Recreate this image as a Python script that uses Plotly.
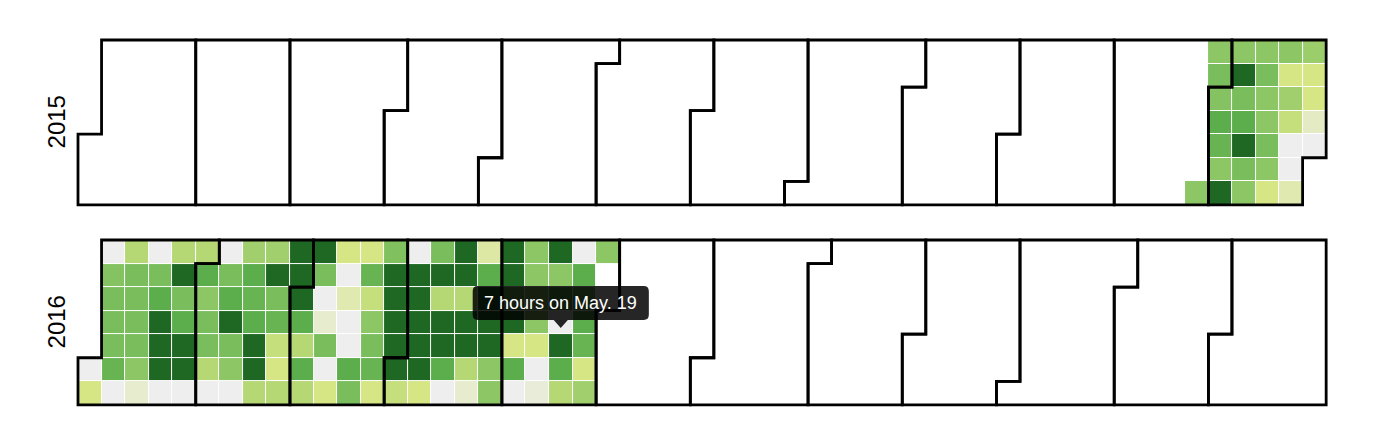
import datetime as dt
import plotly.graph_objects as go

# ---- data: hours per day (Nov 28 2015 .. May 29 2016) ----
start_date = "2015-11-28"
nov_2015 = [3, 3, 3.5]
dec_2015 = [3.2, 4.5, 4, 3, 7,
            3, 7, 3.5, 4.5, 7, 3.5, 3,
            3, 3.5, 3, 3, 3.5, 3, 1,
            3, 1, 2.5, 1.5, 0, 0, 0.6,
            2.6, 1, 1, 0.4, 0]
jan_2016 = [0, 1,
            0, 3.2, 3.5, 3.5, 3.5, 4, 0,
            2, 3.5, 3.5, 3.5, 3.5, 3, 0.3,
            0, 3.5, 4.5, 7, 7, 7, 0,
            2, 7, 3.5, 4.5, 7, 7, 0,
            2]
feb_2016 = [4.5, 3, 3.5, 3.5, 2, 0,
            0, 3.5, 4.5, 7, 3.5, 3, 0,
            2.5, 4.5, 4, 4.5, 7, 7, 2,
            2.5, 7, 3.5, 4, 1.5, 1, 2,
            7, 7]
mar_2016 = [7, 4.5, 2, 4.5, 2,
            7, 3.5, 0, 0.3, 3.5, 0, 1,
            1, 0, 0.6, 0, 0, 4.5, 3.5,
            1, 4, 1.5, 3, 3.5, 4, 1,
            3.3, 7, 7, 7, 7]
apr_2016 = [7, 1.5,
            0, 7, 7, 7, 7, 7, 1,
            3.5, 7, 2, 7, 7, 4.5, 0,
            7, 7, 2, 7, 7, 2, 0.3,
            0.7, 4.5, 7, 7, 7, 3, 3]
may_2016 = [7, 7, 3.5, 7, 1, 4.5, 0,
            3, 3, 3, 3, 1, 0, 0.2,
            7, 3, 4.5, 0, 7, 4.5, 2,
            0, 4.5, 3.5, 4.5, 4, 1, 2.5,
            3]
years = [2015, 2016]
hover_date = "2016-05-19"

color_stops = [0, 1, 2, 3, 4, 5, 6, 7]
color_values = ["#eeeeee", "#d6e685", "#b5d774", "#8cc665", "#68b352",
                "#4ea844", "#1e6823", "#1e6823"]

month_abbr = ["Jan", "Feb", "Mar", "Apr", "May", "Jun", "Jul", "Aug",
              "Sep", "Oct", "Nov", "Dec"]

# ---- build grids ----
values = nov_2015 + dec_2015 + jan_2016 + feb_2016 + mar_2016 + apr_2016 + may_2016
d0 = dt.date.fromisoformat(start_date)
dates = [d0 + dt.timedelta(days=i) for i in range(len(values))]


def week_dow(d):
    jan1 = dt.date(d.year, 1, 1)
    off = (jan1.weekday() + 1) % 7
    doy = (d - jan1).days
    return (doy + off) // 7, (doy + off) % 7


grids = {y: [[None] * 53 for _ in range(7)] for y in years}
texts = {y: [[""] * 53 for _ in range(7)] for y in years}
for d, v in zip(dates, values):
    w, dw = week_dow(d)
    grids[d.year][dw][w] = v
    texts[d.year][dw][w] = f"{v:g} hours on {month_abbr[d.month-1]}. {d.day}"

cs = [[s / 7, c] for s, c in zip(color_stops, color_values)]

BODY = 8  # default page body margin
W, H = 1378 - 2 * BODY, 444 - 2 * BODY
cell = 23.55
left_px = 78 - BODY
tops = {2015: 40 - BODY, 2016: 240 - BODY}
pad = 0.1

fig = go.Figure()
for i, y in enumerate(years):
    ax = "" if i == 0 else str(i + 1)
    fig.add_trace(go.Heatmap(
        z=grids[y], x=list(range(53)), y=list(range(7)),
        text=texts[y], hoverinfo="text",
        colorscale=cs, zmin=0, zmax=7, showscale=False,
        xgap=1, ygap=1, xaxis="x" + ax, yaxis="y" + ax,
    ))

layout = dict(width=W, height=H, margin=dict(l=0, r=0, t=0, b=0),
              paper_bgcolor="white", plot_bgcolor="white", showlegend=False)
x0 = (left_px - pad * cell) / W
x1 = (left_px + (53 + pad) * cell) / W
shapes = []
annotations = []
for i, y in enumerate(years):
    ax = "" if i == 0 else str(i + 1)
    top = tops[y] - pad * cell
    bot = tops[y] + (7 + pad) * cell
    layout["xaxis" + ax] = dict(domain=[x0, min(x1, 1)], range=[-0.5 - pad, 52.5 + pad],
                                visible=False, fixedrange=True)
    layout["yaxis" + ax] = dict(domain=[1 - bot / H, 1 - top / H],
                                range=[6.5 + pad, -0.5 - pad],
                                visible=False, fixedrange=True)
    # month outlines
    for m in range(1, 13):
        t0 = dt.date(y, m, 1)
        t1 = (dt.date(y + 1, 1, 1) if m == 12 else dt.date(y, m + 1, 1)) - dt.timedelta(days=1)
        w0, dd0 = week_dow(t0)
        w1, dd1 = week_dow(t1)
        path = (f"M{w0+0.5},{dd0-0.5} H{w0-0.5} V6.5 H{w1-0.5} V{dd1+0.5} "
                f"H{w1+0.5} V-0.5 H{w0+0.5} Z")
        shapes.append(dict(type="path", path=path, xref="x" + ax, yref="y" + ax,
                           line=dict(color="black", width=2.8), layer="above"))
    annotations.append(dict(text=str(y), xref="paper", yref="paper",
                            x=(56 - BODY) / W, y=1 - (tops[y] + 3.5 * cell) / H,
                            textangle=-90, showarrow=False,
                            font=dict(family="Liberation Sans, Arial", size=24, color="black"),
                            xanchor="center", yanchor="middle"))

# tooltip for hovered day
hd = dt.date.fromisoformat(hover_date)
hw, hdw = week_dow(hd)
hv = grids[hd.year][hdw][hw]
hax = str(years.index(hd.year) + 1)
hax = "" if hax == "1" else hax
cx = hw
ctop = hdw - 0.5  # top edge of hovered cell
bx0, bx1 = cx - 3.74, cx + 3.74
by0, by1 = ctop - 2.047, ctop - 0.603
tip = ctop - 0.263
r = 0.22
box = (f"M{bx0+r},{by0} L{bx1-r},{by0} Q{bx1},{by0} {bx1},{by0+r} "
       f"L{bx1},{by1-r} Q{bx1},{by1} {bx1-r},{by1} "
       f"L{cx+0.3},{by1} L{cx},{tip} L{cx-0.3},{by1} "
       f"L{bx0+r},{by1} Q{bx0},{by1} {bx0},{by1-r} "
       f"L{bx0},{by0+r} Q{bx0},{by0} {bx0+r},{by0} Z")
shapes.append(dict(type="path", path=box, xref="x" + hax, yref="y" + hax,
                   fillcolor="rgba(0,0,0,0.85)", line=dict(width=0), layer="above"))
annotations.append(dict(text=f"{hv:g} hours on {month_abbr[hd.month-1]}. {hd.day}",
                        xref="x" + hax, yref="y" + hax, x=cx, y=(by0 + by1) / 2,
                        showarrow=False, xanchor="center", yanchor="middle",
                        font=dict(family="Liberation Sans, Arial", size=18, color="white")))

layout["shapes"] = shapes
layout["annotations"] = annotations
fig.update_layout(**layout)
fig.write_html("out.html")
